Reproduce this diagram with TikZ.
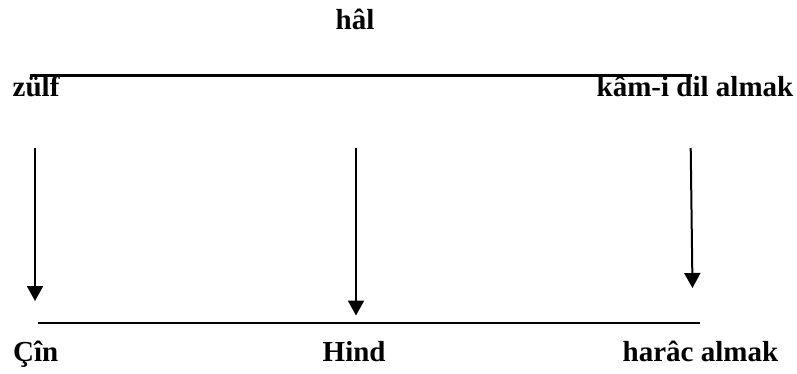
\documentclass[tikz,border=0pt]{standalone}
\usepackage{fontspec}
\setmainfont{Liberation Serif}
\usetikzlibrary{arrows.meta}
\begin{document}
\begin{tikzpicture}[x=1pt,y=-1pt,
  lbl/.style={anchor=base west,inner sep=0pt,font=\fontsize{29}{34}\selectfont\bfseries},
  rule/.style={line width=2pt},
  toprule/.style={line width=2.8pt},
  arr/.style={line width=2pt,-{Triangle[width=16pt,length=15pt]}}]
\useasboundingbox (0,0) rectangle (797,373);
% texts
\node[lbl] (hal) at (335.5,29) {hâl};
\node[lbl] (zulf) at (12.5,96) {zülf};
\node[lbl] (kam) at (596.5,96) {kâm-i dil almak};
\node[lbl] (cin) at (13,361.5) {Çîn};
\node[lbl] (hind) at (322.5,361.5) {Hind};
\node[lbl] (harac) at (622.5,361.5) {harâc almak};
% lines
\coordinate (t1) at (30,75.5);
\coordinate (t2) at (692,75.5);
\coordinate (b1) at (38,322.5);
\coordinate (b2) at (700,322.5);
\draw[toprule] (t1) -- (t2);
\draw[rule] (b1) -- (b2);
% arrows
\coordinate (a1s) at (35,148);
\coordinate (a1e) at (35,301);
\coordinate (a2s) at (356,148);
\coordinate (a2e) at (356,315.5);
\coordinate (a3s) at (690.7,148);
\coordinate (a3e) at (692.5,288);
\draw[arr] (a1s) -- (a1e);
\draw[arr] (a2s) -- (a2e);
\draw[arr] (a3s) -- (a3e);
\end{tikzpicture}
\end{document}
